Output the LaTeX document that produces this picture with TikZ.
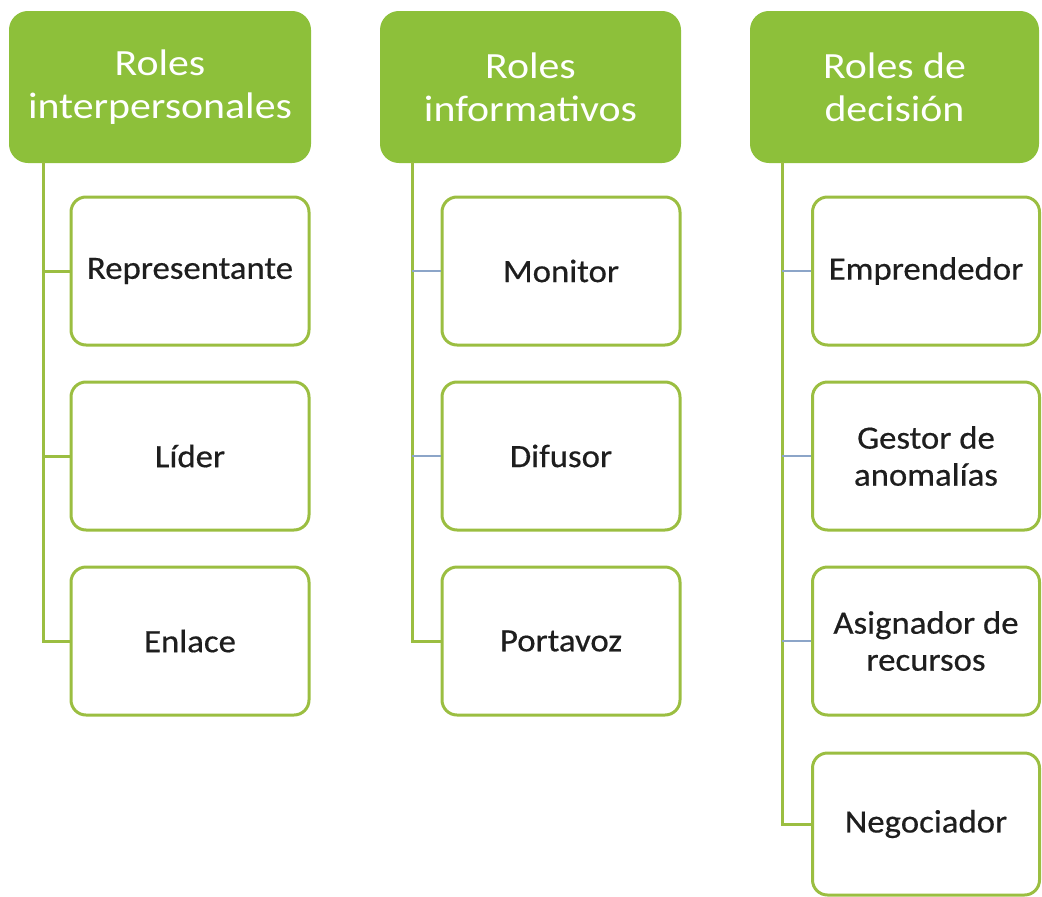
\documentclass[tikz,border=0pt]{standalone}
\usepackage{fontspec}
\setmainfont{Carlito}
\newfontfamily\hdrfont[FakeStretch=1.13]{Carlito}
\newfontfamily\boxfont[FakeStretch=1.07,FakeBold=0.5]{Carlito}
\definecolor{hdrgreen}{RGB}{141,192,58}
\definecolor{boxgreen}{RGB}{155,190,65}
\definecolor{tickblue}{RGB}{140,165,200}
\definecolor{txtdark}{RGB}{30,30,30}
\tikzset{
  hdr/.style={draw=hdrgreen, fill=hdrgreen, line width=2pt, rounded corners=18pt,
    text=white, align=center, inner sep=0pt,
    font=\hdrfont\fontsize{37}{43}\selectfont},
  rolebox/.style={draw=boxgreen, fill=white, line width=3pt, rounded corners=15pt,
    text=txtdark, align=center, inner sep=0pt,
    font=\boxfont\fontsize{32.5}{37}\selectfont},
  trunk/.style={draw=boxgreen, line width=3pt},
  gtick/.style={draw=boxgreen, line width=3pt},
  btick/.style={draw=tickblue, line width=1.3pt}
}
\begin{document}
\begin{tikzpicture}[x=1pt,y=-1pt]
\useasboundingbox (0,0) rectangle (1042,897);
% headers
\node[hdr, minimum width=300pt, minimum height=150pt] (h1) at (160,87) {Roles\\interpersonales};
\node[hdr, minimum width=299pt, minimum height=150pt] (h2) at (530.5,87) {Roles\\informativos};
\node[hdr, minimum width=287pt, minimum height=150pt] (h3) at (894.5,87) {Roles de\\decisión};
% trunk tops
\coordinate (t1) at (43,162);
\coordinate (t2) at (412,162);
\coordinate (t3) at (782,162);
% column 1
\node[rolebox, minimum width=238pt, minimum height=148pt] (b11) at (190,271) {Representante};
\node[rolebox, minimum width=238pt, minimum height=148pt] (b12) at (190,456) {Líder};
\node[rolebox, minimum width=238pt, minimum height=148pt] (b13) at (190,641) {Enlace};
% column 2
\node[rolebox, minimum width=238pt, minimum height=148pt] (b21) at (561,271) {Monitor};
\node[rolebox, minimum width=238pt, minimum height=148pt] (b22) at (561,456) {Difusor};
\node[rolebox, minimum width=238pt, minimum height=148pt] (b23) at (561,641) {Portavoz};
% column 3
\node[rolebox, minimum width=227pt, minimum height=148pt] (b31) at (926,271) {Emprendedor};
\node[rolebox, minimum width=227pt, minimum height=148pt] (b32) at (926,456) {Gestor de\\anomalías};
\node[rolebox, minimum width=227pt, minimum height=148pt] (b33) at (926,641) {Asignador de\\recursos};
\node[rolebox, minimum width=227pt, minimum height=142pt] (b34) at (926,824) {Negociador};
% connectors
\draw[trunk] (t1) |- (b13.west);
\draw[gtick] (b11.west -| t1) -- (b11.west);
\draw[gtick] (b12.west -| t1) -- (b12.west);
\draw[trunk] (t2) |- (b23.west);
\draw[btick] (b21.west -| t2) -- (b21.west);
\draw[btick] (b22.west -| t2) -- (b22.west);
\draw[trunk] (t3) |- (b34.west);
\draw[btick] (b31.west -| t3) -- (b31.west);
\draw[btick] (b32.west -| t3) -- (b32.west);
\draw[btick] (b33.west -| t3) -- (b33.west);
\end{tikzpicture}
\end{document}
